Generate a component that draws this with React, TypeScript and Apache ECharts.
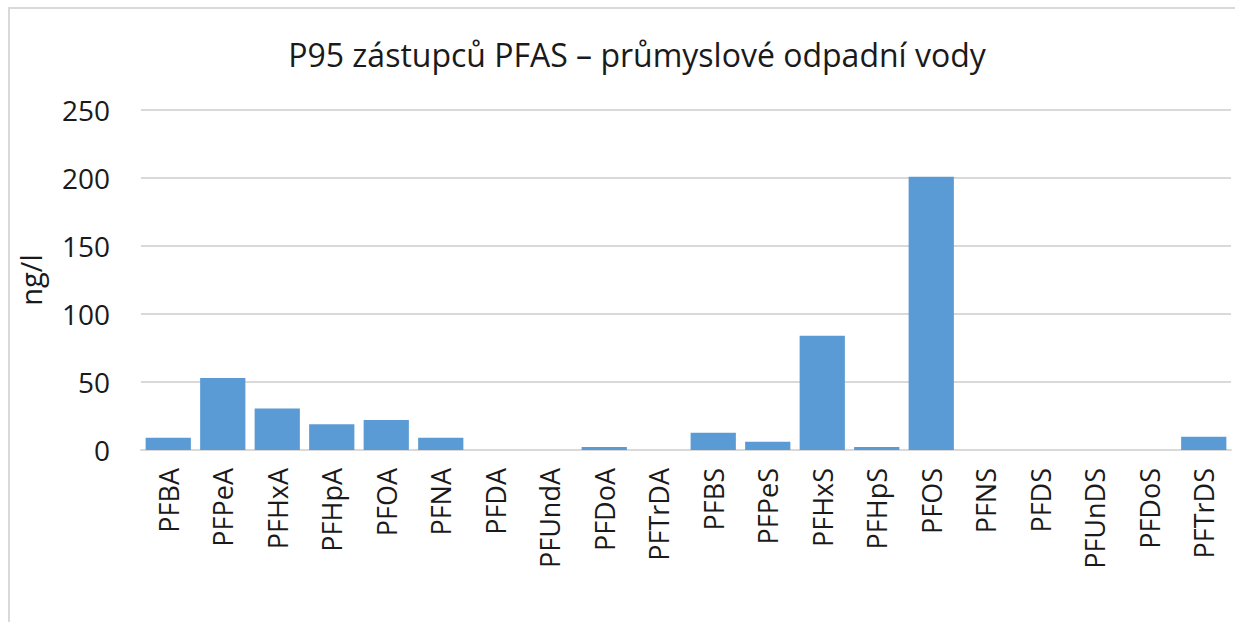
import React, { useEffect, useRef } from "react";
import * as echarts from "echarts";

const categories = [
  "PFBA", "PFPeA", "PFHxA", "PFHpA", "PFOA", "PFNA", "PFDA", "PFUndA", "PFDoA", "PFTrDA",
  "PFBS", "PFPeS", "PFHxS", "PFHpS", "PFOS", "PFNS", "PFDS", "PFUnDS", "PFDoS", "PFTrDS",
];
const values = [9, 53, 30.5, 19, 22, 9, 0, 0, 2.2, 0, 12.7, 6, 84, 2.2, 201, 0, 0, 0, 0, 9.8];
const yTicks = [0, 50, 100, 150, 200, 250];
const titleText = "P95 zástupců PFAS – průmyslové odpadní vody";
const yName = "ng/l";

const FONT = "'Open Sans', sans-serif";

export default function App() {
  const ref = useRef<HTMLDivElement>(null);
  useEffect(() => {
    document.body.style.margin = "0";
    const chart = echarts.init(ref.current!, undefined, { renderer: "svg" });
    chart.setOption({
      animation: false,
      backgroundColor: "#ffffff",
      graphic: [
        {
          type: "rect",
          shape: { x: 9, y: 8, width: 1300, height: 700 },
          style: { fill: "none", stroke: "#d9d9d9", lineWidth: 2 },
          silent: true,
        },
      ],
      title: {
        text: titleText,
        left: 632,
        top: 33,
        textAlign: "center",
        textStyle: { fontFamily: FONT, fontSize: 32, fontWeight: "normal", color: "#1a1a1a" },
      },
      grid: { left: 141, right: 4, top: 110, bottom: 172, containLabel: false },
      xAxis: {
        type: "category",
        data: categories,
        axisTick: { show: false },
        axisLine: { lineStyle: { color: "#d9d9d9", width: 2 } },
        axisLabel: {
          rotate: 90,
          margin: 18,
          interval: 0,
          fontFamily: FONT,
          fontSize: 27,
          color: "#1a1a1a",
        },
      },
      yAxis: {
        type: "value",
        min: yTicks[0],
        max: yTicks[yTicks.length - 1],
        interval: 50,
        name: yName,
        nameLocation: "middle",
        nameGap: 96,
        nameRotate: 90,
        nameTextStyle: { fontFamily: FONT, fontSize: 29, color: "#1a1a1a" },
        axisLine: { show: false },
        axisTick: { show: false },
        splitLine: { lineStyle: { color: "#d9d9d9", width: 2 } },
        axisLabel: { margin: 31, fontFamily: FONT, fontSize: 28, color: "#1a1a1a" },
      },
      series: [
        {
          type: "bar",
          data: values,
          barCategoryGap: "17%",
          itemStyle: { color: "#5b9bd5" },
        },
      ],
    });
    return () => chart.dispose();
  }, []);
  return <div ref={ref} style={{ width: 1235, height: 622 }} />;
}
